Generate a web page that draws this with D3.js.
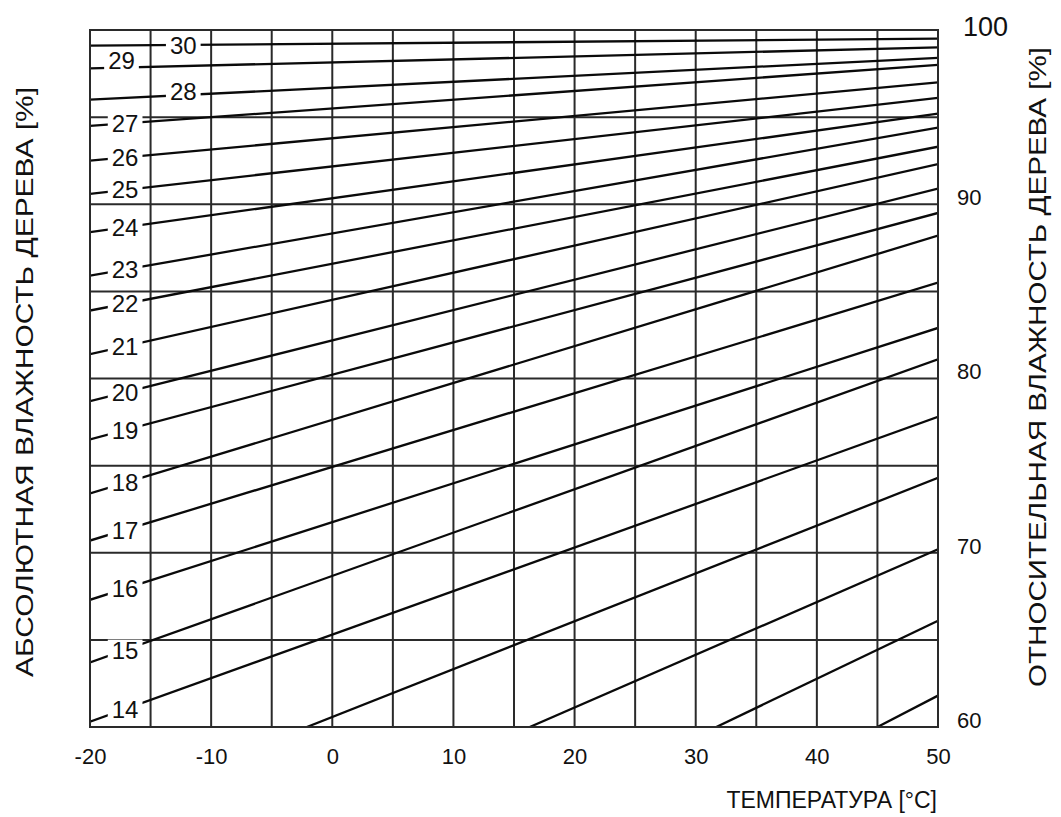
<!DOCTYPE html>
<html><head><meta charset="utf-8">
<script src="https://cdn.jsdelivr.net/npm/d3@7/dist/d3.min.js"></script>
<style>
body{margin:0;background:#fff}
text{font-family:"Liberation Sans",Arial,Helvetica,sans-serif;fill:#111}
</style>
</head><body>
<svg id="c" width="1061" height="817"></svg>
<script>
// ---- data ----
const emcLevels = [30,29,28,27,26,25,24,23,22,21,20,19,18,17,16,15,14,13,12,11,10];
const startTemp = [-20,-20,-20,-20,-20,-20,-20,-20,-20,-20,-20,-20,-20,-20,-20,-20,-20,-2.1,16.3,31.7,45.0];
const startRH   = [99.1,97.8,96.0,94.5,92.5,90.6,88.4,85.9,83.9,81.4,78.7,76.5,73.4,70.7,67.3,63.7,60.3,60,60,60,60];
const endTemp   = [50,50,50,50,50,50,50,50,50,50,50,50,50,50,50,50,50,50,50,50,50];
const endRH     = [99.5,99.0,98.4,98.0,97.0,96.1,95.2,94.4,93.3,92.3,90.9,89.5,88.2,85.5,82.9,81.1,77.8,74.3,70.2,66.1,61.8];
const labelTemp = [-12.3,-17.4,-12.3,-17.1,-17.1,-17.1,-17.1,-17.1,-17.1,-17.1,-17.1,-17.1,-17.1,-17.1,-17.1,-17.1,-17.1,null,null,null,null];
const tempGrid  = [-20,-15,-10,-5,0,5,10,15,20,25,30,35,40,45,50];
const rhGrid    = [60,65,70,75,80,85,90,95,100];
const tempTicks = [-20,-10,0,10,20,30,40,50];
const rhTicks   = [60,70,80,90,100];
const xTitle = "ТЕМПЕРАТУРА [°C]";
const yLeftTitle = "АБСОЛЮТНАЯ ВЛАЖНОСТЬ ДЕРЕВА [%]";
const yRightTitle = "ОТНОСИТЕЛЬНАЯ ВЛАЖНОСТЬ ДЕРЕВА [%]";

// ---- layout ----
const L = 90, R = 938, T = 30, B = 727;
const svg = d3.select("#c");
const x = d3.scaleLinear().domain([-20,50]).range([L,R]);
const y = d3.scaleLinear().domain([60,100]).range([B,T]);

svg.append("defs").append("clipPath").attr("id","clip")
  .append("rect").attr("x",L).attr("y",T).attr("width",R-L).attr("height",B-T);

const grid = svg.append("g").attr("stroke","#2a2a2a").attr("stroke-width",2);
grid.selectAll("line.v").data(tempGrid).join("line").attr("class","v")
  .attr("x1",d=>x(d)).attr("x2",d=>x(d)).attr("y1",T).attr("y2",B);
grid.selectAll("line.h").data(rhGrid).join("line").attr("class","h")
  .attr("x1",L).attr("x2",R).attr("y1",d=>y(d)).attr("y2",d=>y(d));

const lines = emcLevels.map((e,i)=>({e, t0:startTemp[i], r0:startRH[i], t1:endTemp[i], r1:endRH[i], lt:labelTemp[i]}));
const lineGen = d3.line().x(d=>x(d[0])).y(d=>y(d[1]));
svg.append("g").attr("clip-path","url(#clip)")
  .selectAll("path").data(lines).join("path")
  .attr("d",d=>lineGen([[d.t0,d.r0],[d.t1,d.r1]]))
  .attr("fill","none").attr("stroke","#0a0a0a").attr("stroke-width",2.3);

// frame
svg.append("rect").attr("x",L).attr("y",T).attr("width",R-L).attr("height",B-T)
  .attr("fill","none").attr("stroke","#2a2a2a").attr("stroke-width",2);

// labels on lines
const lab = svg.append("g");
lines.filter(d=>d.lt!==null).forEach(d=>{
  const rh = d.r0 + (d.r1-d.r0)*(d.lt-d.t0)/(d.t1-d.t0);
  let cy = y(rh);
  if (d.e===29) cy -= 7;
  if (d.e===28) cy -= 4;
  const g = lab.append("g");
  const rect = g.append("rect").attr("fill","#fff");
  const t = g.append("text").attr("x",x(d.lt)).attr("y",cy).attr("dy","0.36em")
    .attr("text-anchor","middle").attr("font-size",24).text(d.e);
  const bb = t.node().getBBox();
  rect.attr("x",bb.x-4).attr("y",bb.y+3).attr("width",bb.width+8).attr("height",bb.height-5);
});

// bottom axis
const xa = svg.append("g").attr("transform",`translate(0,${B})`)
  .call(d3.axisBottom(x).tickValues(tempTicks).tickSize(0).tickPadding(0).tickFormat(d=>String(d)));
xa.select(".domain").remove();
xa.selectAll("text").attr("y",37).attr("dy",0).attr("font-size",22).attr("fill","#111")
  .attr("font-family",null);

// right axis
const ya = svg.append("g").attr("transform",`translate(${R},0)`)
  .call(d3.axisRight(y).tickValues(rhTicks).tickSize(0).tickPadding(0).tickFormat(d=>String(d)));
ya.select(".domain").remove();
ya.selectAll("text").attr("x",d=>d===100?25:19).attr("dy",d=>d===100?"0.2em":"0.02em")
  .attr("font-size",d=>d===100?27:22).attr("fill","#111").attr("text-anchor","start")
  .attr("font-family",null);

// titles
svg.append("text").attr("x",937).attr("y",808).attr("text-anchor","end")
  .attr("font-size",23).text(xTitle);
svg.append("text").attr("transform","translate(33,382) rotate(-90)").attr("text-anchor","middle")
  .attr("font-size",24).attr("textLength",590).attr("lengthAdjust","spacingAndGlyphs").text(yLeftTitle);
svg.append("text").attr("transform","translate(1046,367) rotate(-90)").attr("text-anchor","middle")
  .attr("font-size",24).attr("textLength",640).attr("lengthAdjust","spacingAndGlyphs").text(yRightTitle);
</script>
</body></html>
